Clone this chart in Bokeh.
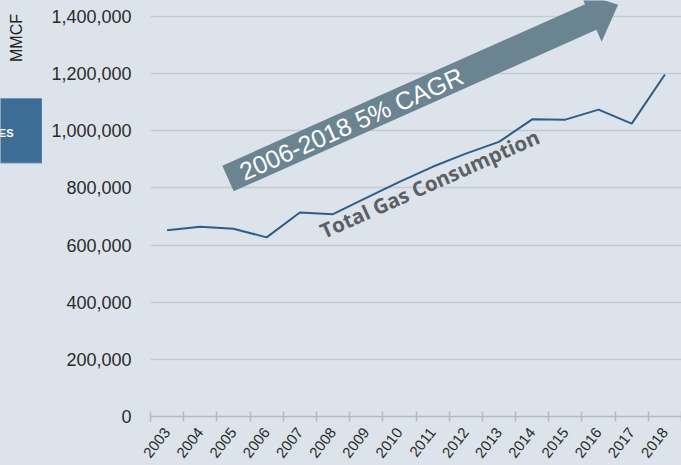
import math
from bokeh.plotting import figure
from bokeh.layouts import row
from bokeh.models import (FixedTicker, NumeralTickFormatter, Range1d, Label,
                          ColumnDataSource)
from bokeh.embed import file_html
from bokeh.resources import INLINE

# ---- data -------------------------------------------------------------
years = [2003, 2004, 2005, 2006, 2007, 2008, 2009, 2010,
         2011, 2012, 2013, 2014, 2015, 2016, 2017, 2018]
gas_consumption = [652000, 664000, 657000, 627000, 714000, 708000, 765000, 821000,
                   874000, 920000, 961000, 1040000, 1039000, 1074000, 1025000, 1197000]
y_ticks = [0, 200000, 400000, 600000, 800000, 1000000, 1200000, 1400000]
unit_label = "MMCF"
series_label = "Total Gas Consumption"
arrow_label = "2006-2018 5% CAGR"
button_label = "ES"

# ---- layout -----------------------------------------------------------
BG = "#dce3ea"
TOTAL_W, H = 681, 465
SIDE_W = 42
W = TOTAL_W - SIDE_W
LEFT, BOTTOM = 150 - SIDE_W, 49
FRAME_W, FRAME_H = W - LEFT, H - BOTTOM
Y_PER_PX = 3500.0
x0 = years[0] - 0.5
x1 = years[-1] + 0.5
PX_PER_YEAR = FRAME_W / (x1 - x0)
y1 = FRAME_H * Y_PER_PX


def dx(page_x):
    return x0 + (page_x - 150) / PX_PER_YEAR


def dy(page_y):
    return (FRAME_H - page_y) * Y_PER_PX


p = figure(width=W, height=H, output_backend="svg", toolbar_location=None,
           x_range=Range1d(x0, x1), y_range=Range1d(0, y1),
           min_border_left=LEFT, min_border_right=0, min_border_top=0,
           min_border_bottom=BOTTOM, background_fill_color=BG,
           border_fill_color=BG, outline_line_color=None,
           styles={"background-color": BG})

# axes
p.xaxis.ticker = FixedTicker(ticks=years,
                             minor_ticks=[y - 0.5 for y in years] + [years[-1] + 0.5])
p.xaxis.major_tick_line_color = None
p.xaxis.minor_tick_line_color = "#b4bac1"
p.xaxis.minor_tick_line_width = 1.5
p.xaxis.minor_tick_in = 5
p.xaxis.minor_tick_out = 5
p.xaxis.axis_line_color = "#b4bac1"
p.xaxis.axis_line_width = 1.5
p.xaxis.major_label_orientation = math.radians(52)
p.xaxis.major_label_text_font = "Liberation Sans"
p.xaxis.major_label_text_font_size = "15px"
p.xaxis.major_label_text_color = "#2b2b2b"
p.xaxis.major_label_standoff = 7

p.yaxis.ticker = FixedTicker(ticks=y_ticks)
p.yaxis.formatter = NumeralTickFormatter(format="0,0")
p.yaxis.axis_line_color = None
p.yaxis.major_tick_line_color = None
p.yaxis.minor_tick_line_color = None
p.yaxis.major_label_text_font = "Liberation Sans"
p.yaxis.major_label_text_font_size = "18px"
p.yaxis.major_label_text_color = "#2b2b2b"
p.yaxis.major_label_standoff = 13

p.xgrid.grid_line_color = None
p.ygrid.grid_line_color = "#c4cad1"
p.ygrid.grid_line_width = 1.5

# CAGR arrow (annotation geometry in slide pixels)
ang = math.radians(24)
d = (math.cos(ang), -math.sin(ang))
n = (-math.sin(ang), -math.cos(ang))
C = (227.5, 178.0)


def pt(s, t):
    return (C[0] + s * d[0] + t * n[0], C[1] + s * d[1] + t * n[1])


shape = [pt(0, -14), pt(397, -14), pt(397, -27), pt(427, 0),
         pt(397, 27), pt(397, 14), pt(0, 14)]
p.patch([dx(a) for a, b in shape], [dy(b) for a, b in shape],
        fill_color="#6a8591", line_color=None)

cx, cy = pt(135, 0)
p.add_layout(Label(x=dx(cx), y=dy(cy), text=arrow_label, angle=ang,
                   text_align="center", text_baseline="middle",
                   text_color="white", text_font="Liberation Sans",
                   text_font_size="25px"))

# data line
src = ColumnDataSource(dict(year=years, value=gas_consumption))
p.line("year", "value", source=src, line_color="#2d5e8a", line_width=2)

p.add_layout(Label(x=dx(429), y=dy(183), text=series_label, angle=ang,
                   text_align="center", text_baseline="middle",
                   text_color="#5c6064", text_font="Open Sans",
                   text_font_style="bold", text_font_size="20.5px"))

# ---- left strip of the slide: unit label and partial button ------------
side = figure(width=SIDE_W, height=H, output_backend="svg", toolbar_location=None,
              x_range=Range1d(0, SIDE_W), y_range=Range1d(FRAME_H, 0),
              x_axis_type=None, y_axis_type=None,
              min_border_left=0, min_border_right=0, min_border_top=0,
              min_border_bottom=BOTTOM, background_fill_color=BG,
              border_fill_color=BG, outline_line_color=None,
              styles={"background-color": BG})
side.xgrid.grid_line_color = None
side.ygrid.grid_line_color = None
side.quad(left=[-5], right=[41.5], top=[98], bottom=[162.5],
          fill_color="#3d6c94", line_color="#6f95b6", line_width=1)
side.add_layout(Label(x=13, y=132, text=button_label, text_align="right",
                      text_baseline="middle", text_color="white",
                      text_font="Liberation Sans", text_font_style="bold",
                      text_font_size="11px"))
side.add_layout(Label(x=15.5, y=37.5, text=unit_label, angle=math.pi / 2,
                      text_align="center", text_baseline="middle",
                      text_color="#222222", text_font="Liberation Sans",
                      text_font_size="16px"))

layout = row(side, p, spacing=0, styles={"background-color": BG})
open("out.html", "w").write(file_html(layout, INLINE))
